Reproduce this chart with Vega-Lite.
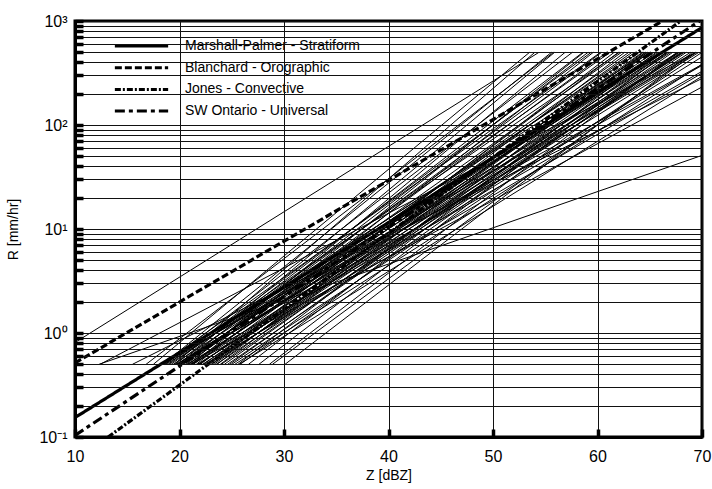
{
"$schema":"https://vega.github.io/schema/vega-lite/v6.json",
"width":627,"height":416,
"autosize":{"type":"none"},
"padding":{"left":75,"top":21,"right":10,"bottom":52},
"background":"white",
"config":{"font":"Liberation Sans","view":{"stroke":"black","strokeWidth":3},
 "axis":{"ticks":true,"tickSize":-8,"tickWidth":3.5,"tickColor":"black","tickOpacity":1}},
"datasets":{
"thin":[
{"id":1,"z":19.5,"r":0.5},{"id":1,"z":54.0,"r":500},
{"id":2,"z":18.4,"r":0.5},{"id":2,"z":55.6,"r":500},
{"id":3,"z":19.9,"r":0.5},{"id":3,"z":55.9,"r":500},
{"id":4,"z":18.6,"r":0.5},{"id":4,"z":57.6,"r":500},
{"id":5,"z":20.9,"r":0.5},{"id":5,"z":56.9,"r":500},
{"id":6,"z":19.6,"r":0.5},{"id":6,"z":58.6,"r":500},
{"id":7,"z":18.3,"r":0.5},{"id":7,"z":60.3,"r":500},
{"id":8,"z":21.2,"r":0.5},{"id":8,"z":58.7,"r":500},
{"id":9,"z":19.9,"r":0.5},{"id":9,"z":60.4,"r":500},
{"id":10,"z":18.6,"r":0.5},{"id":10,"z":62.1,"r":500},
{"id":11,"z":21.6,"r":0.5},{"id":11,"z":59.6,"r":500},
{"id":12,"z":20.3,"r":0.5},{"id":12,"z":62.3,"r":500},
{"id":13,"z":19.0,"r":0.5},{"id":13,"z":64.0,"r":500},
{"id":14,"z":18.3,"r":0.5},{"id":14,"z":64.8,"r":500},
{"id":15,"z":22.6,"r":0.5},{"id":15,"z":61.6,"r":500},
{"id":16,"z":21.3,"r":0.5},{"id":16,"z":63.3,"r":500},
{"id":17,"z":20.0,"r":0.5},{"id":17,"z":65.0,"r":500},
{"id":18,"z":18.7,"r":0.5},{"id":18,"z":66.7,"r":500},
{"id":19,"z":23.6,"r":0.5},{"id":19,"z":62.6,"r":500},
{"id":20,"z":22.3,"r":0.5},{"id":20,"z":64.3,"r":500},
{"id":21,"z":21.0,"r":0.5},{"id":21,"z":66.0,"r":500},
{"id":22,"z":19.7,"r":0.5},{"id":22,"z":67.7,"r":500},
{"id":23,"z":18.4,"r":0.5},{"id":23,"z":69.4,"r":500},
{"id":24,"z":23.9,"r":0.5},{"id":24,"z":64.4,"r":500},
{"id":25,"z":22.6,"r":0.5},{"id":25,"z":66.1,"r":500},
{"id":26,"z":21.3,"r":0.5},{"id":26,"z":67.8,"r":500},
{"id":27,"z":20.0,"r":0.5},{"id":27,"z":69.5,"r":500},
{"id":28,"z":18.1,"r":0.5},{"id":28,"z":70,"r":382},
{"id":29,"z":25.6,"r":0.5},{"id":29,"z":64.6,"r":500},
{"id":30,"z":24.3,"r":0.5},{"id":30,"z":66.3,"r":500},
{"id":31,"z":23.0,"r":0.5},{"id":31,"z":68.0,"r":500},
{"id":32,"z":21.7,"r":0.5},{"id":32,"z":69.7,"r":500},
{"id":33,"z":19.7,"r":0.5},{"id":33,"z":70,"r":374},
{"id":34,"z":26.6,"r":0.5},{"id":34,"z":65.6,"r":500},
{"id":35,"z":24.6,"r":0.5},{"id":35,"z":68.1,"r":500},
{"id":36,"z":22.7,"r":0.5},{"id":36,"z":70,"r":452},
{"id":37,"z":20.7,"r":0.5},{"id":37,"z":70,"r":328},
{"id":38,"z":27.6,"r":0.5},{"id":38,"z":66.6,"r":500},
{"id":39,"z":25.0,"r":0.5},{"id":39,"z":70.0,"r":500},
{"id":40,"z":22.4,"r":0.5},{"id":40,"z":70,"r":315},
{"id":41,"z":28.6,"r":0.5},{"id":41,"z":67.6,"r":500},
{"id":42,"z":25.3,"r":0.5},{"id":42,"z":70,"r":383},
{"id":43,"z":28.9,"r":0.5},{"id":43,"z":69.4,"r":500},
{"id":44,"z":25.7,"r":0.5},{"id":44,"z":70,"r":294},
{"id":45,"z":30.1,"r":0.5},{"id":45,"z":69.1,"r":500},
{"id":46,"z":20.1,"r":0.5},{"id":46,"z":63.6,"r":500},
{"id":47,"z":21.1,"r":0.5},{"id":47,"z":64.6,"r":500},
{"id":48,"z":19.8,"r":0.5},{"id":48,"z":66.3,"r":500},
{"id":49,"z":22.8,"r":0.5},{"id":49,"z":64.8,"r":500},
{"id":50,"z":20.2,"r":0.5},{"id":50,"z":68.2,"r":500},
{"id":51,"z":23.1,"r":0.5},{"id":51,"z":66.6,"r":500},
{"id":52,"z":21.8,"r":0.5},{"id":52,"z":68.3,"r":500},
{"id":53,"z":24.8,"r":0.5},{"id":53,"z":66.8,"r":500},
{"id":54,"z":23.5,"r":0.5},{"id":54,"z":68.5,"r":500},
{"id":55,"z":25.8,"r":0.5},{"id":55,"z":67.8,"r":500},
{"id":56,"z":20.4,"r":0.5},{"id":56,"z":60.9,"r":500},
{"id":57,"z":20.1,"r":0.5},{"id":57,"z":59.1,"r":500},
{"id":58,"z":10,"r":0.81},{"id":58,"z":54.4,"r":500},
{"id":59,"z":12.3,"r":0.5},{"id":59,"z":70,"r":51},
{"id":60,"z":12.4,"r":0.5},{"id":60,"z":69.4,"r":500},
{"id":61,"z":15.5,"r":0.5},{"id":61,"z":70,"r":280},
{"id":62,"z":21.1,"r":0.5},{"id":62,"z":70,"r":232},
{"id":63,"z":17.5,"r":0.5},{"id":63,"z":53.5,"r":500},
{"id":64,"z":16.8,"r":0.5},{"id":64,"z":55.8,"r":500},
{"id":65,"z":19.2,"r":0.5},{"id":65,"z":61.2,"r":500},
{"id":66,"z":20.6,"r":0.5},{"id":66,"z":63.0,"r":500},
{"id":67,"z":21.9,"r":0.5},{"id":67,"z":65.4,"r":500},
{"id":68,"z":22.0,"r":0.5},{"id":68,"z":62.0,"r":500},
{"id":69,"z":23.3,"r":0.5},{"id":69,"z":65.0,"r":500},
{"id":70,"z":24.0,"r":0.5},{"id":70,"z":67.2,"r":500},
{"id":71,"z":19.4,"r":0.5},{"id":71,"z":65.8,"r":500},
{"id":72,"z":20.8,"r":0.5},{"id":72,"z":67.0,"r":500},
{"id":73,"z":22.2,"r":0.5},{"id":73,"z":68.9,"r":500},
{"id":74,"z":18.9,"r":0.5},{"id":74,"z":59.4,"r":500}
],
"thick":[
{"name":"Marshall-Palmer - Stratiform","z":10,"r":0.1538},{"name":"Marshall-Palmer - Stratiform","z":70,"r":864.7},
{"name":"Blanchard  - Orographic","z":10,"r":0.5161},{"name":"Blanchard  - Orographic","z":66.21,"r":1000},
{"name":"Jones - Convective","z":13.17,"r":0.1},{"name":"Jones - Convective","z":67.97,"r":1000},
{"name":"SW Ontario - Universal","z":10,"r":0.1036},{"name":"SW Ontario - Universal","z":69.77,"r":1000}
]
},
"layer":[
{"data":{"name":"thin"},
 "mark":{"type":"line","color":"black","strokeWidth":1,"clip":true},
 "encoding":{
  "x":{"field":"z","type":"quantitative","scale":{"domain":[10,70],"nice":false,"zero":false},
   "axis":{"values":[10,20,30,40,50,60,70],"title":"Z [dBZ]","labelFlush":false,"labelOverlap":false,
    "labelPadding":19,"labelFontSize":16,"labelColor":"black",
    "titleFontSize":14,"titleFontWeight":"normal","titleColor":"black","titlePadding":4,
    "grid":true,"gridColor":"#111","gridWidth":1,"gridOpacity":1,"domainWidth":3,"domainColor":"black","zindex":1}},
  "y":{"field":"r","type":"quantitative","scale":{"type":"log","domain":[0.1,1000],"nice":false},
   "axis":{"values":[0.1,0.2,0.3,0.4,0.5,0.6,0.7,0.8,0.9,1,2,3,4,5,6,7,8,9,10,20,30,40,50,60,70,80,90,100,200,300,400,500,600,700,800,900,1000],
    "labelExpr":"datum.value == 0.1 ? '10⁻¹' : datum.value == 1 ? '10⁰' : datum.value == 10 ? '10¹' : datum.value == 100 ? '10²' : datum.value == 1000 ? '10³' : ''",
    "title":"R [mm/hr]","labelFlush":false,"labelOverlap":false,
    "labelPadding":16,"labelFontSize":16,"labelColor":"black",
    "titleFontSize":14,"titleFontWeight":"normal","titleColor":"black","titlePadding":18,
    "grid":true,"gridColor":"#111","gridWidth":1,"gridOpacity":1,"domainWidth":3,"domainColor":"black","zindex":1}},
  "detail":{"field":"id","type":"nominal"}
 }},
{"data":{"name":"thick"},
 "mark":{"type":"line","color":"black","strokeWidth":3.2,"clip":true},
 "encoding":{
  "x":{"field":"z","type":"quantitative"},
  "y":{"field":"r","type":"quantitative"},
  "strokeDash":{"field":"name","type":"nominal","sort":null,
   "scale":{"domain":["Marshall-Palmer - Stratiform","Blanchard  - Orographic","Jones - Convective","SW Ontario - Universal"],
    "range":[[1,0],[7,3],[6,2,2,2],[10,4,4,4]]},
   "legend":{"title":null,"orient":"none","legendX":38,"legendY":18,"padding":0,
    "symbolType":"stroke","symbolSize":2840,"symbolStrokeWidth":3,"symbolStrokeColor":"black",
    "labelFontSize":14,"labelColor":"black","labelOffset":15,"labelLimit":400,
    "clipHeight":14,"rowPadding":7.7}}
 }}
]
}
